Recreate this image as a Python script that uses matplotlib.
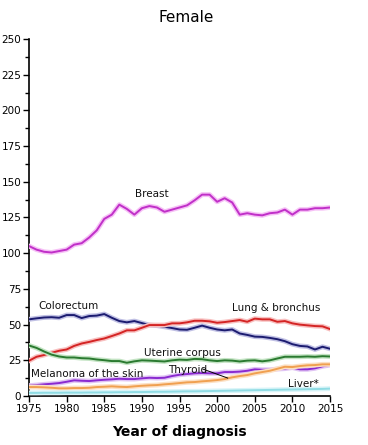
import numpy as np
import matplotlib
matplotlib.use("Agg")
import matplotlib.pyplot as plt
import matplotlib.patheffects as pe
from matplotlib.ticker import MultipleLocator

years = list(range(1975, 2016))

breast = [105, 102.5, 101, 100.5, 101.5, 102.5, 106, 107, 111, 116,
          124, 127, 134, 131, 127, 131.5, 133, 132, 129, 130.5,
          132, 133.5, 137, 141, 141, 136, 138.5, 135.5, 127, 128,
          127, 126.5, 128, 128.5, 130.5, 127, 130.5, 130.5, 131.5, 131.5,
          132]
colorectum = [53.7, 54.4, 55, 55.2, 54.8, 56.7, 56.7, 54.6, 56, 56.3,
              57.4, 54.8, 52.5, 51.6, 52.5, 51.1, 49.7, 49.3, 48.5, 47.6,
              46.6, 46.4, 47.8, 49.3, 47.8, 46.6, 46, 46.6, 43.8, 42.8,
              41.6, 41.4, 40.7, 39.8, 38.4, 36.3, 35.1, 34.7, 32.6, 34.5,
              33.1]
lung = [24.7, 27.5, 28.7, 30.3, 31.7, 32.6, 35.1, 36.8, 37.9, 39.2,
        40.3, 42, 43.8, 46, 46, 47.8, 49.7, 49.7, 49.7, 50.9,
        50.9, 51.6, 52.7, 52.7, 52.3, 51.3, 51.8, 52.5, 53.2, 52,
        54.2, 53.7, 53.7, 52, 52.5, 50.9, 50, 49.5, 49, 48.8,
        46.9]
uterine = [35.4, 33.7, 31.2, 29, 27.7, 27, 27, 26.5, 26.3, 25.6,
           25.1, 24.5, 24.5, 23.3, 24.3, 25, 24.8, 24.5, 24.2, 25,
           25.5, 25.3, 26, 25.8, 25, 24.5, 25, 24.8, 24.2, 24.8,
           25, 24.3, 25, 26.3, 27.5, 27.5, 27.5, 27.7, 27.5, 27.9,
           27.7]
melanoma = [7.3, 7.7, 8.2, 8.6, 9.1, 10, 11, 10.7, 10.5, 11,
            11.4, 11.7, 12.1, 11.9, 11.9, 12.4, 12.8, 12.6, 12.8, 14,
            14.9, 15.4, 15.9, 16.1, 15.9, 15.9, 16.8, 16.8, 17.1, 17.7,
            18.7, 18.4, 18.4, 18.9, 19.2, 19.9, 18.7, 18.7, 19.4, 20.8,
            21.7]
thyroid = [6.3, 6.3, 6.1, 5.8, 5.4, 5.4, 5.6, 5.6, 5.8, 6.3,
           6.5, 6.8, 6.5, 6.3, 6.8, 7.2, 7.5, 7.7, 8.2, 8.6,
           9.1, 9.6, 9.8, 10.3, 10.7, 11.2, 11.9, 13.1, 14, 14.7,
           15.9, 16.8, 17.7, 19.1, 20.5, 20.3, 21, 21.5, 21.7, 22.2,
           22.2]
liver = [2.2, 2.2, 2.3, 2.3, 2.3, 2.4, 2.4, 2.4, 2.5, 2.5,
         2.6, 2.6, 2.7, 2.7, 2.8, 2.8, 2.9, 3.0, 3.0, 3.1,
         3.2, 3.3, 3.3, 3.4, 3.5, 3.6, 3.7, 3.8, 3.9, 4.0,
         4.1, 4.2, 4.3, 4.4, 4.5, 4.6, 4.7, 4.8, 4.9, 5.0,
         5.2]

series = [
    ("Breast", breast, "#c030c8", "#f6c0f6"),
    ("Colorectum", colorectum, "#1c1c70", "#c0c0e4"),
    ("Lung & bronchus", lung, "#d42424", "#f8c0c0"),
    ("Uterine corpus", uterine, "#2a7a30", "#c4e4c4"),
    ("Melanoma of the skin", melanoma, "#8a2ad0", "#e0c4f4"),
    ("Thyroid", thyroid, "#f0a050", "#fce0c4"),
    ("Liver*", liver, "#90dce4", "#d8f4f8"),
]

# label anchors (left edge, centre) in data units
labels = {
    "Breast": (1989.1, 141.5),
    "Colorectum": (1976.2, 63.2),
    "Lung & bronchus": (2002.0, 61.8),
    "Uterine corpus": (1990.3, 30.3),
    "Melanoma of the skin": (1975.3, 15.4),
    "Thyroid": (1993.5, 18.2),
    "Liver*": (2009.4, 8.4),
}

fig = plt.figure(figsize=(3.68, 4.45), dpi=100)
ax = fig.add_axes([0.0788, 0.110, 0.818, 0.8025])

for name, values, color, glow in series:
    ax.plot(years, values, color=color, linewidth=1.4, zorder=3,
            path_effects=[pe.Stroke(linewidth=3.5, foreground=glow),
                          pe.Normal()])

for name, (lx, ly) in labels.items():
    ax.text(lx, ly, name, fontsize=7.5, color="#111111",
            ha="left", va="center", zorder=5)

# leader line for Thyroid
ax.plot([1998.1, 2001.4], [18.9, 12.6], color="black", linewidth=0.7, zorder=4)

ax.set_xlim(1975, 2015)
ax.set_ylim(0, 250)
ax.xaxis.set_major_locator(MultipleLocator(5))
ax.yaxis.set_major_locator(MultipleLocator(25))
ax.yaxis.set_minor_locator(MultipleLocator(12.5))

for side in ["top", "right"]:
    ax.spines[side].set_visible(False)
for side in ["left", "bottom"]:
    ax.spines[side].set_linewidth(1.2)

ax.tick_params(axis="both", labelsize=7.5, direction="out", width=1.0,
               length=4, pad=1.5)
ax.tick_params(axis="y", which="minor", length=3, width=1.0)

ax.set_xlabel("Year of diagnosis", fontsize=10, fontweight="bold", labelpad=8)
fig.text(0.505, 0.96, "Female", fontsize=11, ha="center", va="center")

fig.savefig("out.png", dpi=100)
